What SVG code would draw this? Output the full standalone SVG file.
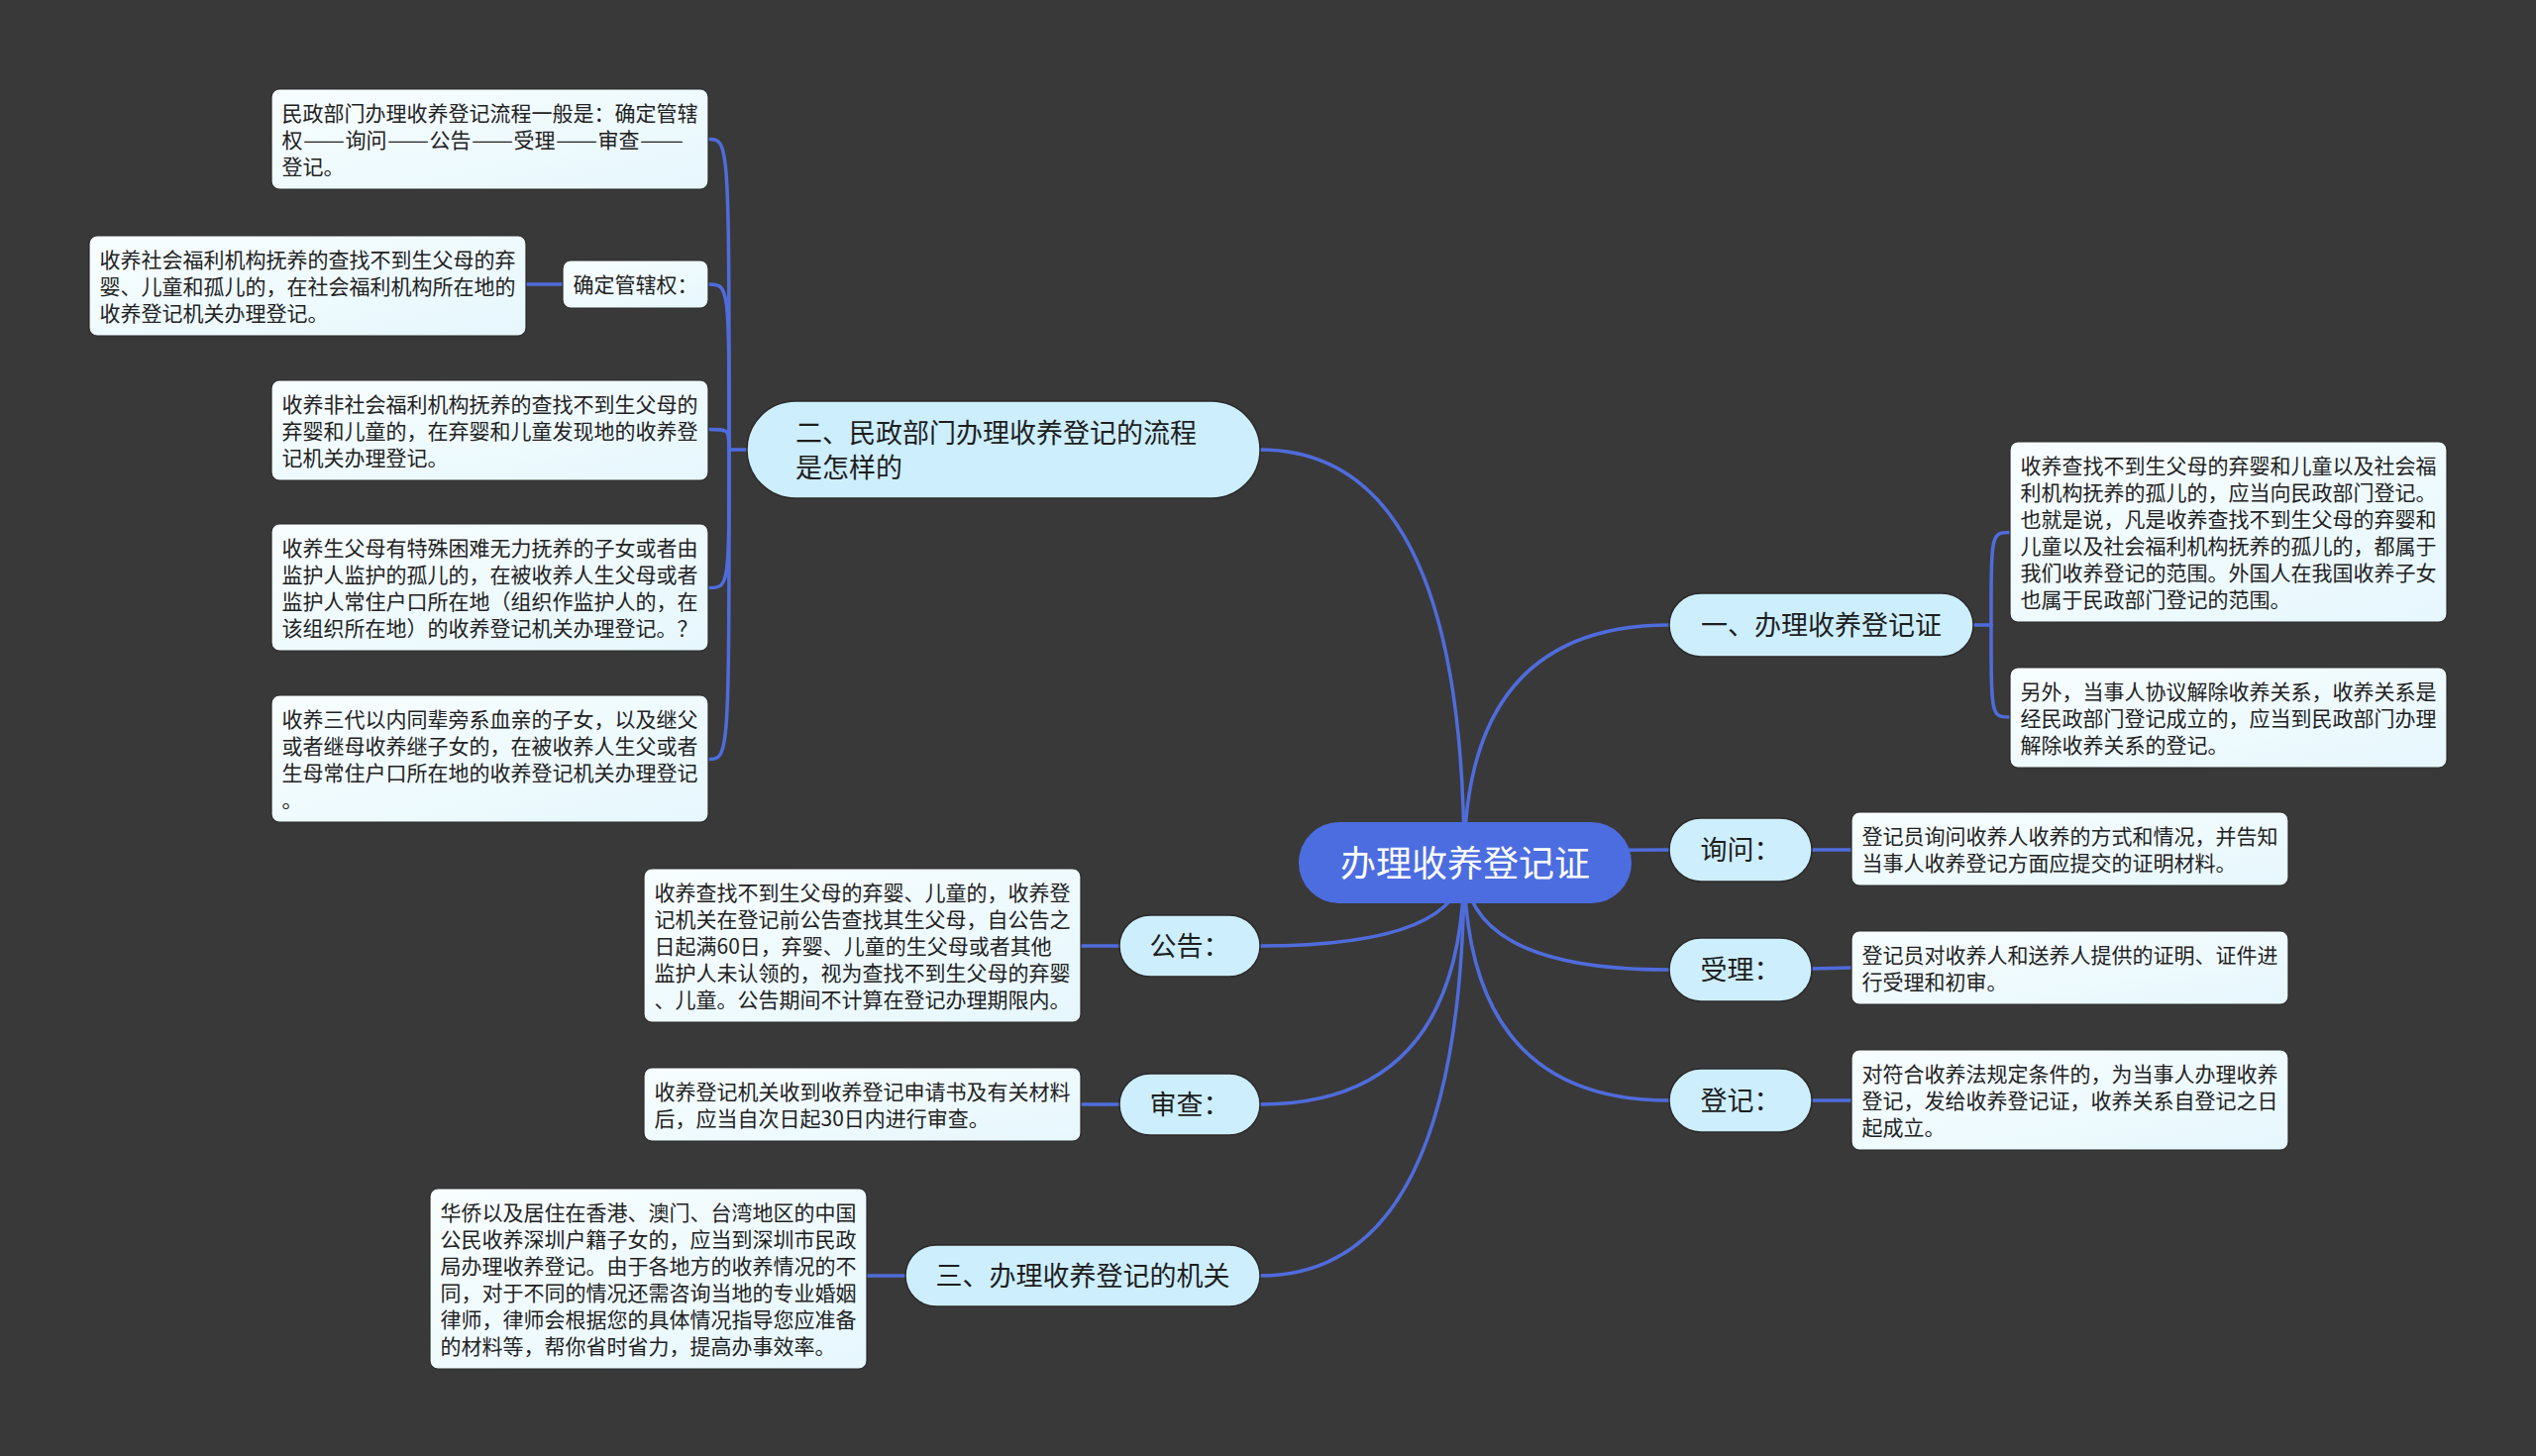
<svg xmlns="http://www.w3.org/2000/svg" width="2560" height="1470" viewBox="0 0 2560 1470">
<defs>
<linearGradient id="leafFill" x1="0" y1="0" x2="1" y2="1">
<stop offset="0" stop-color="#f8feff"/>
<stop offset="1" stop-color="#e6f7fd"/>
</linearGradient>
<style>
.bg{fill:#3a3939}
.conn{fill:none;stroke:#4f6cdc;stroke-width:3.5;stroke-linecap:round}
.leaf rect{fill:url(#leafFill);stroke:#2a2a2a;stroke-width:1.2}
.leaf text{font-family:"Noto Sans CJK SC","Noto Sans",sans-serif;font-size:21px;fill:#222222}
.sub rect{fill:#cdeefd;stroke:#2a2a2a;stroke-width:1.5}
.sub text{font-family:"Noto Sans CJK SC","Noto Sans",sans-serif;font-size:27px;fill:#1e1e1e}
.root rect{fill:#4c6de0}
.root text{font-family:"Noto Sans CJK SC","Noto Sans",sans-serif;font-size:36px;fill:#ffffff}
.mid{text-anchor:middle}
</style>
</defs>
<rect class="bg" x="0" y="0" width="2560" height="1470"/>

<g id="connectors">
<path class="conn" d="M1478 871 Q1478 454 1272 454"/>
<path class="conn" d="M1478 871 Q1478 631 1685 631"/>
<path class="conn" d="M1478 871 Q1478 858 1685 858"/>
<path class="conn" d="M1478 871 Q1478 979 1685 979"/>
<path class="conn" d="M1478 871 Q1478 1111 1685 1111"/>
<path class="conn" d="M1478 871 Q1478 955 1272 955"/>
<path class="conn" d="M1478 871 Q1478 1115 1272 1115"/>
<path class="conn" d="M1478 871 Q1478 1288 1272 1288"/>
<path class="conn" d="M755 454 L736 454"/>
<path class="conn" d="M736 454 C736 140.5 736 140.5 715 140.5"/>
<path class="conn" d="M736 454 C736 287 736 287 715 287"/>
<path class="conn" d="M736 454 C736 433.5 736 433.5 715 433.5"/>
<path class="conn" d="M736 454 C736 593.5 736 593.5 715 593.5"/>
<path class="conn" d="M736 454 C736 766.5 736 766.5 715 766.5"/>
<path class="conn" d="M568 287 L531 287"/>
<path class="conn" d="M1992 631 L2010 631"/>
<path class="conn" d="M2010 631 C2010 537.5 2010 537.5 2029 537.5"/>
<path class="conn" d="M2010 631 C2010 724 2010 724 2029 724"/>
<path class="conn" d="M1829 858 L1869 858"/>
<path class="conn" d="M1829 978 L1869 977"/>
<path class="conn" d="M1829 1111 L1869 1111"/>
<path class="conn" d="M1130 955 L1089 955"/>
<path class="conn" d="M1130 1115 L1089 1115"/>
<path class="conn" d="M914 1288 L873 1288"/>
</g>

<g id="root" class="root">
<rect x="1311" y="830" width="336" height="82" rx="41"/>
<text class="mid" x="1479" y="885">办理收养登记证</text>
</g>

<g id="n-er" class="sub">
<rect x="754" y="405" width="518" height="98" rx="49"/>
<text x="803" y="447">二、民政部门办理收养登记的流程</text>
<text x="803" y="482">是怎样的</text>
</g>
<g id="n-yi" class="sub">
<rect x="1685" y="599" width="307" height="64" rx="32"/>
<text class="mid" x="1838.5" y="641">一、办理收养登记证</text>
</g>
<g id="n-xunwen" class="sub">
<rect x="1685" y="826" width="144" height="64" rx="32"/>
<text class="mid" x="1757" y="868">询问：</text>
</g>
<g id="n-shouli" class="sub">
<rect x="1685" y="947" width="144" height="64" rx="32"/>
<text class="mid" x="1757" y="989">受理：</text>
</g>
<g id="n-dengji" class="sub">
<rect x="1685" y="1079" width="144" height="64" rx="32"/>
<text class="mid" x="1757" y="1121">登记：</text>
</g>
<g id="n-gonggao" class="sub">
<rect x="1130" y="924" width="142" height="62" rx="31"/>
<text class="mid" x="1201" y="965">公告：</text>
</g>
<g id="n-shencha" class="sub">
<rect x="1130" y="1084" width="142" height="62" rx="31"/>
<text class="mid" x="1201" y="1125">审查：</text>
</g>
<g id="n-san" class="sub">
<rect x="914" y="1257" width="358" height="62" rx="31"/>
<text class="mid" x="1093" y="1298">三、办理收养登记的机关</text>
</g>

<g id="leaf-liucheng" class="leaf">
<rect x="274" y="90" width="441" height="101" rx="8"/>
<text x="284.5" y="121.5">民政部门办理收养登记流程一般是：确定管辖</text>
<text y="148.5"><tspan x="284.5">权</tspan><tspan x="306" textLength="42" lengthAdjust="spacingAndGlyphs">——</tspan><tspan x="348.5">询问</tspan><tspan x="391" textLength="42" lengthAdjust="spacingAndGlyphs">——</tspan><tspan x="433.5">公告</tspan><tspan x="476" textLength="42" lengthAdjust="spacingAndGlyphs">——</tspan><tspan x="518.5">受理</tspan><tspan x="561" textLength="42" lengthAdjust="spacingAndGlyphs">——</tspan><tspan x="603.5">审查</tspan><tspan x="646" textLength="44" lengthAdjust="spacingAndGlyphs">——</tspan></text>
<text x="284.5" y="175.5">登记。</text>
</g>
<g id="leaf-queding" class="leaf">
<rect x="568" y="263" width="147" height="48" rx="8"/>
<text x="578.5" y="294.5">确定管辖权：</text>
</g>
<g id="leaf-fuli" class="leaf">
<rect x="90" y="238" width="441" height="101" rx="8"/>
<text x="100.5" y="269.5">收养社会福利机构抚养的查找不到生父母的弃</text>
<text x="100.5" y="296.5">婴、儿童和孤儿的，在社会福利机构所在地的</text>
<text x="100.5" y="323.5">收养登记机关办理登记。</text>
</g>
<g id="leaf-feifuli" class="leaf">
<rect x="274" y="384" width="441" height="101" rx="8"/>
<text x="284.5" y="415.5">收养非社会福利机构抚养的查找不到生父母的</text>
<text x="284.5" y="442.5">弃婴和儿童的，在弃婴和儿童发现地的收养登</text>
<text x="284.5" y="469.5">记机关办理登记。</text>
</g>
<g id="leaf-shengfumu" class="leaf">
<rect x="274" y="529" width="441" height="128" rx="8"/>
<text x="284.5" y="560.5">收养生父母有特殊困难无力抚养的子女或者由</text>
<text x="284.5" y="587.5">监护人监护的孤儿的，在被收养人生父母或者</text>
<text x="284.5" y="614.5">监护人常住户口所在地（组织作监护人的，在</text>
<text x="284.5" y="641.5">该组织所在地）的收养登记机关办理登记。？</text>
</g>
<g id="leaf-sandai" class="leaf">
<rect x="274" y="702" width="441" height="128" rx="8"/>
<text x="284.5" y="733.5">收养三代以内同辈旁系血亲的子女，以及继父</text>
<text x="284.5" y="760.5">或者继母收养继子女的，在被收养人生父或者</text>
<text x="284.5" y="787.5">生母常住户口所在地的收养登记机关办理登记</text>
<text x="284.5" y="814.5">。</text>
</g>

<g id="leaf-fanwei" class="leaf">
<rect x="2029" y="446" width="441" height="182" rx="8"/>
<text x="2039.5" y="477.5">收养查找不到生父母的弃婴和儿童以及社会福</text>
<text x="2039.5" y="504.5">利机构抚养的孤儿的，应当向民政部门登记。</text>
<text x="2039.5" y="531.5">也就是说，凡是收养查找不到生父母的弃婴和</text>
<text x="2039.5" y="558.5">儿童以及社会福利机构抚养的孤儿的，都属于</text>
<text x="2039.5" y="585.5">我们收养登记的范围。外国人在我国收养子女</text>
<text x="2039.5" y="612.5">也属于民政部门登记的范围。</text>
</g>
<g id="leaf-jiechu" class="leaf">
<rect x="2029" y="674" width="441" height="101" rx="8"/>
<text x="2039.5" y="705.5">另外，当事人协议解除收养关系，收养关系是</text>
<text x="2039.5" y="732.5">经民政部门登记成立的，应当到民政部门办理</text>
<text x="2039.5" y="759.5">解除收养关系的登记。</text>
</g>
<g id="leaf-xunwen" class="leaf">
<rect x="1869" y="820" width="441" height="74" rx="8"/>
<text x="1879.5" y="851.5">登记员询问收养人收养的方式和情况，并告知</text>
<text x="1879.5" y="878.5">当事人收养登记方面应提交的证明材料。</text>
</g>
<g id="leaf-shouli" class="leaf">
<rect x="1869" y="940" width="441" height="74" rx="8"/>
<text x="1879.5" y="971.5">登记员对收养人和送养人提供的证明、证件进</text>
<text x="1879.5" y="998.5">行受理和初审。</text>
</g>
<g id="leaf-dengji" class="leaf">
<rect x="1869" y="1060" width="441" height="101" rx="8"/>
<text x="1879.5" y="1091.5">对符合收养法规定条件的，为当事人办理收养</text>
<text x="1879.5" y="1118.5">登记，发给收养登记证，收养关系自登记之日</text>
<text x="1879.5" y="1145.5">起成立。</text>
</g>
<g id="leaf-gonggao" class="leaf">
<rect x="650" y="877" width="441" height="155" rx="8"/>
<text x="660.5" y="908.5">收养查找不到生父母的弃婴、儿童的，收养登</text>
<text x="660.5" y="935.5">记机关在登记前公告查找其生父母，自公告之</text>
<text x="660.5" y="962.5">日起满60日，弃婴、儿童的生父母或者其他</text>
<text x="660.5" y="989.5">监护人未认领的，视为查找不到生父母的弃婴</text>
<text x="660.5" y="1016.5">、儿童。公告期间不计算在登记办理期限内。</text>
</g>
<g id="leaf-shencha" class="leaf">
<rect x="650" y="1078" width="441" height="74" rx="8"/>
<text x="660.5" y="1109.5">收养登记机关收到收养登记申请书及有关材料</text>
<text x="660.5" y="1136.5">后，应当自次日起30日内进行审查。</text>
</g>
<g id="leaf-jiguan" class="leaf">
<rect x="434" y="1200" width="441" height="182" rx="8"/>
<text x="444.5" y="1231.5">华侨以及居住在香港、澳门、台湾地区的中国</text>
<text x="444.5" y="1258.5">公民收养深圳户籍子女的，应当到深圳市民政</text>
<text x="444.5" y="1285.5">局办理收养登记。由于各地方的收养情况的不</text>
<text x="444.5" y="1312.5">同，对于不同的情况还需咨询当地的专业婚姻</text>
<text x="444.5" y="1339.5">律师，律师会根据您的具体情况指导您应准备</text>
<text x="444.5" y="1366.5">的材料等，帮你省时省力，提高办事效率。</text>
</g>
</svg>
